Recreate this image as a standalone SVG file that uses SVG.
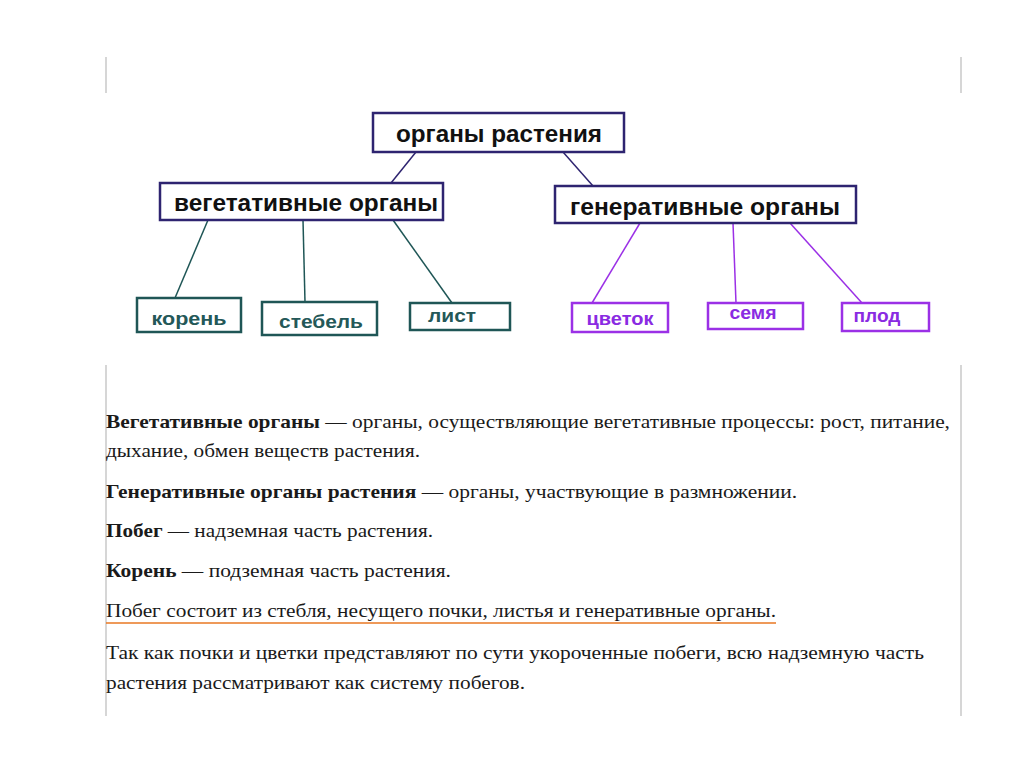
<svg xmlns="http://www.w3.org/2000/svg" width="1024" height="767" viewBox="0 0 1024 767">
<style>
.bg{fill:#ffffff}
.frame{stroke:#c8c8c8;stroke-width:1.5}
.main{fill:#ffffff;stroke:#2e2470;stroke-width:2.5}
.veg{fill:#ffffff;stroke:#1f5656;stroke-width:2.5}
.gen{fill:#ffffff;stroke:#9b30e6;stroke-width:2.5}
.tm{font-family:"Liberation Sans",Arial,sans-serif;font-weight:bold;font-size:23px;fill:#111111;text-anchor:middle}
.tv{font-family:"Liberation Sans",Arial,sans-serif;font-weight:bold;font-size:19px;fill:#245858;text-anchor:middle}
.tg{font-family:"Liberation Sans",Arial,sans-serif;font-weight:bold;font-size:19px;fill:#8a2be2;text-anchor:middle}
.cm{stroke:#2e2470;stroke-width:1.5;fill:none}
.cv{stroke:#1f5656;stroke-width:1.5;fill:none}
.cg{stroke:#9b30e6;stroke-width:1.5;fill:none}
.body{font-family:"Liberation Serif","Times New Roman",serif;font-size:19px;fill:#1a1a1a}
.b{font-weight:bold}
</style>
<rect class="bg" x="0" y="0" width="1024" height="767"/>
<g id="frame">
<line class="frame" x1="106" y1="57" x2="106" y2="93"/>
<line class="frame" x1="961" y1="57" x2="961" y2="93"/>
<line class="frame" x1="106" y1="365" x2="106" y2="716"/>
<line class="frame" x1="961" y1="365" x2="961" y2="716"/>
</g>
<g id="connectors">
<line class="cm" x1="416" y1="152" x2="391" y2="183"/>
<line class="cm" x1="563" y1="152" x2="593" y2="186"/>
<line class="cv" x1="208" y1="220" x2="175" y2="298"/>
<line class="cv" x1="303" y1="220" x2="305" y2="302"/>
<line class="cv" x1="393" y1="220" x2="452" y2="303"/>
<line class="cg" x1="640" y1="223" x2="592" y2="303"/>
<line class="cg" x1="733" y1="223" x2="736" y2="303"/>
<line class="cg" x1="790" y1="223" x2="862" y2="303"/>
</g>
<g id="node-organy">
<rect class="main" x="373" y="113" width="251" height="39"/>
<text class="tm" x="499" y="142" textLength="206" lengthAdjust="spacingAndGlyphs">органы растения</text>
</g>
<g id="node-veg">
<rect class="main" x="160" y="183" width="283" height="37"/>
<text class="tm" x="306" y="211" textLength="264" lengthAdjust="spacingAndGlyphs">вегетативные органы</text>
</g>
<g id="node-gen">
<rect class="main" x="555" y="186" width="301" height="37"/>
<text class="tm" x="705" y="215" textLength="270" lengthAdjust="spacingAndGlyphs">генеративные органы</text>
</g>
<g id="node-koren">
<rect class="veg" x="137" y="298" width="104" height="34"/>
<text class="tv" x="189" y="325" textLength="75" lengthAdjust="spacingAndGlyphs">корень</text>
</g>
<g id="node-stebel">
<rect class="veg" x="262" y="302" width="115" height="33"/>
<text class="tv" x="321" y="328" textLength="84" lengthAdjust="spacingAndGlyphs">стебель</text>
</g>
<g id="node-list">
<rect class="veg" x="410" y="303" width="100" height="27"/>
<text class="tv" x="452" y="322" textLength="48" lengthAdjust="spacingAndGlyphs">лист</text>
</g>
<g id="node-cvetok">
<rect class="gen" x="572" y="303" width="96" height="29"/>
<text class="tg" x="620" y="325" textLength="67" lengthAdjust="spacingAndGlyphs">цветок</text>
</g>
<g id="node-semya">
<rect class="gen" x="708" y="303" width="95" height="26"/>
<text class="tg" x="753" y="319" textLength="47" lengthAdjust="spacingAndGlyphs">семя</text>
</g>
<g id="node-plod">
<rect class="gen" x="842" y="303" width="87" height="28"/>
<text class="tg" x="877" y="322" textLength="47" lengthAdjust="spacingAndGlyphs">плод</text>
</g>
<g id="text">
<text class="body" x="106" y="428" textLength="844" lengthAdjust="spacingAndGlyphs"><tspan class="b">Вегетативные органы</tspan> — органы, осуществляющие вегетативные процессы: рост, питание,</text>
<text class="body" x="106" y="457" textLength="314" lengthAdjust="spacingAndGlyphs">дыхание, обмен веществ растения.</text>
<text class="body" x="106" y="498" textLength="691" lengthAdjust="spacingAndGlyphs"><tspan class="b">Генеративные органы растения</tspan> — органы, участвующие в размножении.</text>
<text class="body" x="106" y="537" textLength="327" lengthAdjust="spacingAndGlyphs"><tspan class="b">Побег</tspan> — надземная часть растения.</text>
<text class="body" x="106" y="577" textLength="345" lengthAdjust="spacingAndGlyphs"><tspan class="b">Корень</tspan> — подземная часть растения.</text>
<text class="body" x="106" y="617" textLength="670" lengthAdjust="spacingAndGlyphs">Побег состоит из стебля, несущего почки, листья и генеративные органы.</text>
<line x1="106" y1="623" x2="776" y2="623" stroke="#e87722" stroke-width="1.5"/>
<text class="body" x="106" y="659" textLength="818" lengthAdjust="spacingAndGlyphs">Так как почки и цветки представляют по сути укороченные побеги, всю надземную часть</text>
<text class="body" x="106" y="689" textLength="419" lengthAdjust="spacingAndGlyphs">растения рассматривают как систему побегов.</text>
</g>
</svg>
